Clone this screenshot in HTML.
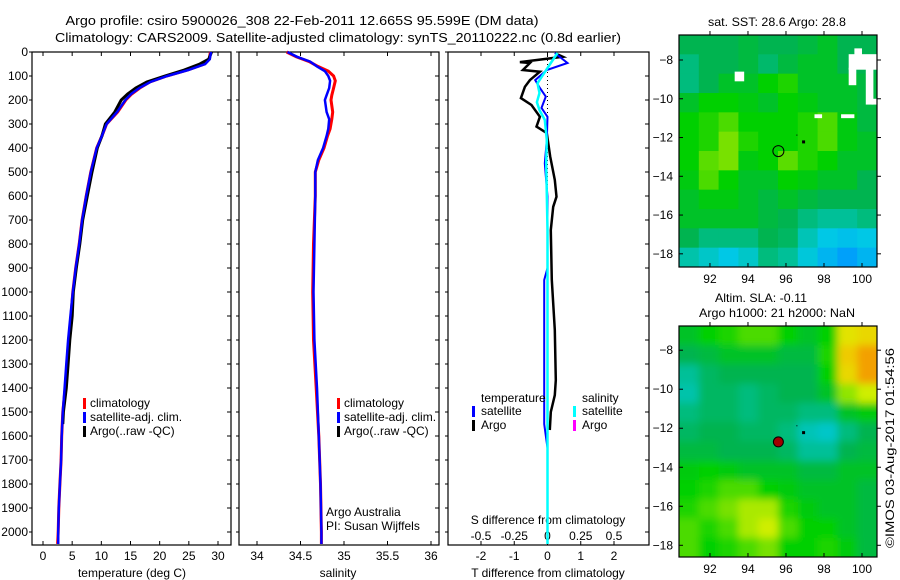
<!DOCTYPE html>
<html><head><meta charset="utf-8">
<style>
html,body{margin:0;padding:0;background:#fff;}
svg{display:block;font-family:"Liberation Sans",sans-serif;}
text{fill:#000;}
</style></head>
<body>
<svg id="fig" width="900" height="580" viewBox="0 0 900 580" xmlns="http://www.w3.org/2000/svg">
<text x="302" y="25" font-size="13" text-anchor="middle" textLength="473" lengthAdjust="spacingAndGlyphs">Argo profile: csiro 5900026_308 22-Feb-2011 12.665S 95.599E (DM data)</text>
<text x="338" y="42" font-size="13" text-anchor="middle" textLength="566" lengthAdjust="spacingAndGlyphs">Climatology: CARS2009. Satellite-adjusted climatology: synTS_20110222.nc (0.8d earlier)</text>
<text x="777" y="26" font-size="12" text-anchor="middle" textLength="138" lengthAdjust="spacingAndGlyphs">sat. SST: 28.6 Argo: 28.8</text>
<text x="761" y="302" font-size="12" text-anchor="middle" textLength="92" lengthAdjust="spacingAndGlyphs">Altim. SLA: -0.11</text>
<text x="777" y="317" font-size="12" text-anchor="middle" textLength="156" lengthAdjust="spacingAndGlyphs">Argo h1000: 21 h2000: NaN</text>
<text transform="translate(894,448) rotate(-90)" font-size="12" text-anchor="middle" textLength="200" lengthAdjust="spacingAndGlyphs">©IMOS 03-Aug-2017 01:54:56</text>
</svg>
<script>
// ---------- data ----------
const tDepth = [0,30,50,75,100,125,150,175,200,250,300,350,400,500,600,700,800,900,1000,1100,1200,1300,1400,1500,1600,1700,1800,1900,2000,2050];
const tClim  = [28.7,28.5,27.7,24.8,21.2,18.3,16.6,15.2,14.2,12.8,10.9,10.1,9.2,8.2,7.4,6.7,6.2,5.6,5.1,4.8,4.4,4.1,3.8,3.4,3.2,3.1,2.9,2.7,2.6,2.5];
const tSat   = [28.8,28.6,27.8,24.9,21.3,18.4,16.5,15.1,14.1,12.7,10.9,10.1,9.2,8.2,7.4,6.7,6.2,5.6,5.1,4.7,4.3,4.0,3.7,3.4,3.2,3.1,2.9,2.7,2.6,2.6];
const aDepth = [0,30,50,75,100,125,150,175,200,250,300,350,400,500,600,700,800,900,1000,1100,1200,1300,1400,1500,1550];
const tArgo  = [28.9,28.4,26.9,24.2,20.9,17.8,15.9,14.5,13.4,12.3,10.7,10.1,9.3,8.4,7.6,6.8,6.3,5.7,5.2,5.0,4.6,4.3,4.0,3.5,3.4];
const sDepth = [0,20,40,60,80,100,120,150,180,200,250,280,320,350,400,450,500,600,800,1000,1200,1400,1600,1800,2000,2050];
const sSat   = [34.35,34.46,34.61,34.69,34.78,34.82,34.84,34.83,34.8,34.78,34.8,34.83,34.82,34.8,34.76,34.7,34.67,34.67,34.66,34.65,34.66,34.69,34.71,34.73,34.74,34.74];
const sClim  = [34.34,34.45,34.6,34.7,34.82,34.88,34.9,34.88,34.86,34.85,34.87,34.86,34.84,34.81,34.77,34.71,34.67,34.67,34.65,34.64,34.65,34.68,34.71,34.73,34.74,34.74];
const dtArgoDepth = [8,20,42,46,75,82,117,145,192,221,270,311,338,436,533,603,645,742,950,1158,1367,1430,1500,1575];
const dtArgo      = [0.27,0.46,-0.83,-0.53,-0.74,-0.23,-0.53,-0.68,-0.8,-0.48,-0.23,-0.33,-0.02,0.08,0.22,0.27,0.17,0.1,0.13,0.22,0.25,0.22,0.1,0.07];
const dtSatDepth  = [4,46,75,117,150,186,233,270,367,464,603,900,950,1550,1650];
const dtSat       = [0.22,0.6,-0.02,-0.37,-0.23,-0.05,-0.18,0.0,-0.02,-0.08,0.0,0.0,-0.1,-0.1,0.0];
const dsSatDepth  = [4,46,88,130,171,209,242,283,367,464,742,1200,2050];
const dsSat       = [0.075,0.025,-0.025,-0.075,-0.06,-0.08,-0.06,-0.02,-0.005,-0.01,0.0,0.0,0.0];
const depthTicks = [0,100,200,300,400,500,600,700,800,900,1000,1100,1200,1300,1400,1500,1600,1700,1800,1900,2000];
const tTicks = [0,5,10,15,20,25,30];
const sTicks = [34,34.5,35,35.5,36];
const sTickLabels = ["34","34.5","35","35.5","36"];
const dTTicks = [-2,-1,0,1,2];
const dSTicks = [-0.5,-0.25,0,0.25,0.5];
const dSTickLabels = ["-0.5","-0.25","0","0.25","0.5"];
const lonTicks = [92,94,96,98,100];
const latTicks = [-8,-10,-12,-14,-16,-18];
const sstGrid = [
[0.5,0.5,0.5,0.52,0.5,0.5,0.52,0.55,0.5,0.5],
[0.45,0.5,0.5,0.52,0.47,0.52,0.55,0.55,0.5,0.5],
[0.45,0.5,0.55,0.55,0.6,0.62,0.55,0.55,0.55,0.52],
[0.55,0.6,0.6,0.58,0.55,0.6,0.58,0.55,0.55,0.52],
[0.6,0.62,0.65,0.6,0.6,0.6,0.62,0.65,0.58,0.52],
[0.6,0.62,0.68,0.62,0.6,0.6,0.62,0.65,0.58,0.55],
[0.6,0.66,0.68,0.58,0.6,0.66,0.62,0.6,0.55,0.55],
[0.58,0.65,0.6,0.55,0.55,0.6,0.58,0.55,0.55,0.5],
[0.55,0.58,0.58,0.55,0.52,0.55,0.52,0.5,0.5,0.5],
[0.55,0.55,0.55,0.55,0.52,0.5,0.45,0.42,0.42,0.45],
[0.5,0.45,0.45,0.45,0.5,0.48,0.38,0.3,0.28,0.3],
[0.4,0.35,0.3,0.35,0.45,0.42,0.32,0.25,0.2,0.25]];
const slaGrid = [
[0.55,0.6,0.62,0.65,0.65,0.6,0.55,0.6,0.78,0.8],
[0.5,0.52,0.55,0.55,0.55,0.52,0.52,0.62,0.82,0.88],
[0.42,0.48,0.5,0.5,0.5,0.5,0.5,0.6,0.8,0.88],
[0.4,0.48,0.48,0.45,0.48,0.5,0.5,0.55,0.7,0.75],
[0.45,0.48,0.48,0.45,0.48,0.48,0.45,0.45,0.55,0.58],
[0.48,0.5,0.5,0.48,0.48,0.45,0.38,0.35,0.45,0.5],
[0.52,0.52,0.5,0.5,0.5,0.48,0.42,0.42,0.5,0.52],
[0.58,0.6,0.58,0.55,0.55,0.55,0.52,0.52,0.55,0.55],
[0.6,0.62,0.65,0.65,0.6,0.58,0.55,0.55,0.55,0.52],
[0.62,0.65,0.68,0.72,0.72,0.62,0.58,0.55,0.55,0.52],
[0.65,0.62,0.65,0.72,0.75,0.65,0.6,0.6,0.55,0.52],
[0.65,0.6,0.62,0.65,0.68,0.6,0.6,0.62,0.58,0.52]];
const sstNaN = [[93.3,93.8,-8.6,-9.1],[99.3,100.8,-7.7,-8.5],[99.6,100.0,-7.4,-7.8],[99.3,99.7,-8.4,-9.3],[100.2,100.6,-8.4,-10.3],[100.5,100.8,-10.0,-10.3],[97.5,97.9,-10.8,-11.0],[98.9,99.6,-10.8,-11.0]];
const profLon = 95.6, profLat = -12.7;
const floatLon = [96.9,96.6], floatLat = [-12.2,-11.9];

// ---------- helpers ----------
const svg = document.getElementById('fig');
const NS = 'http://www.w3.org/2000/svg';
function mk(tag, attrs, parent){const e=document.createElementNS(NS,tag);for(const k in attrs)e.setAttribute(k,attrs[k]);(parent||svg).appendChild(e);return e;}
function lin(d0,d1,r0,r1){return v=>r0+(v-d0)*(r1-r0)/(d1-d0);}
const pTop=52, pBot=545;
const yD = lin(0,2000,52,532);
function stepPath(xs,ds,fx){
  let p='';
  for(let i=0;i<xs.length;i++){const x=fx(xs[i]).toFixed(1),y=yD(ds[i]).toFixed(1);p+=(i?'L':'M')+x+' '+y+' ';}
  return p;
}
function frame(x0,x1,name){
  const r=mk('rect',{x:x0,y:pTop,width:x1-x0,height:pBot-pTop,fill:'none',stroke:'#000','stroke-width':1.2});
  
  
  for(const d of depthTicks){const y=yD(d);
    mk('line',{x1:x0-3,y1:y,x2:x0,y2:y,stroke:'#000'});mk('line',{x1:x1-4,y1:y,x2:x1,y2:y,stroke:'#000'});}
}
function txt(x,y,s,name,opts){const t=mk('text',Object.assign({x:x,y:y,'font-size':12},opts||{}));t.textContent=s;
  
  return t;}
function xTicks(vals,labels,fx,y,name,tickTop){
  vals.forEach((v,i)=>{const x=fx(v);
    if(tickTop){mk('line',{x1:x,y1:pTop,x2:x,y2:pTop+4,stroke:'#000'});mk('line',{x1:x,y1:pBot,x2:x,y2:pBot-4,stroke:'#000'});}
    txt(x,y,labels[i],name,{'text-anchor':'middle'});});
}
function line(d,color,w,name){const p=mk('path',{d:d,fill:'none',stroke:color,'stroke-width':w,'stroke-linejoin':'miter'});
  
  return p;}
function legendBar(x,y,color,name){const r=mk('rect',{x:x,y:y-10,width:3,height:11,fill:color});
  
  }

// ---------- panel 1: temperature ----------
const xT = lin(0,30,43,218);
frame(32,231,'temperature-panel');
depthTicks.forEach(d=>txt(28,yD(d)+4,String(d),'depth-tick-label',{'text-anchor':'end'}));
xTicks(tTicks,tTicks.map(String),xT,560,'temperature-tick-label',true);
txt(132,577,'temperature (deg C)','temperature-axis-title',{'text-anchor':'middle'});
line(stepPath(tClim,tDepth,xT),'#ff0000',3,'temperature-climatology-line');
line(stepPath(tArgo,aDepth,xT),'#000000',3,'temperature-argo-line');
line(stepPath(tSat,tDepth,xT),'#0000ff',2.5,'temperature-satellite-line');
legendBar(83,408,'#ff0000','legend-climatology-marker');txt(90,407,'climatology','legend-climatology');
legendBar(83,422,'#0000ff','legend-satellite-marker');txt(90,421,'satellite-adj. clim.','legend-satellite');
legendBar(83,436,'#000000','legend-argo-marker');txt(90,435,'Argo(..raw -QC)','legend-argo');

// ---------- panel 2: salinity ----------
const xS = lin(34,36,257,431);
frame(239,439,'salinity-panel');
xTicks(sTicks,sTickLabels,xS,560,'salinity-tick-label',true);
txt(338,577,'salinity','salinity-axis-title',{'text-anchor':'middle'});
line(stepPath(sClim,sDepth,xS),'#ff0000',3,'salinity-climatology-line');
line(stepPath(sSat,sDepth,xS),'#0000ff',2.5,'salinity-satellite-line');
legendBar(337,408,'#ff0000','legend-s-climatology-marker');txt(344,407,'climatology','legend-s-climatology');
legendBar(337,422,'#0000ff','legend-s-satellite-marker');txt(344,421,'satellite-adj. clim.','legend-s-satellite');
legendBar(337,436,'#000000','legend-s-argo-marker');txt(344,435,'Argo(..raw -QC)','legend-s-argo');
txt(326,516,'Argo Australia','argo-australia-label');
txt(326,530,'PI: Susan Wijffels','pi-label');

// ---------- panel 3: differences ----------
const xDT = lin(-2,2,481,614);
const xDS = v=>xDT(v*4);
frame(448,649,'difference-panel');
xTicks(dTTicks,dTTicks.map(String),xDT,560,'t-difference-tick-label',true);
xTicks(dSTicks,dSTickLabels,xDS,540,'s-difference-tick-label',false);
txt(548,524,'S difference from climatology','s-difference-axis-title',{'text-anchor':'middle'});
txt(548,577,'T difference from climatology','t-difference-axis-title',{'text-anchor':'middle'});
const zl=mk('line',{x1:xDT(0),y1:pTop,x2:xDT(0),y2:yD(700),stroke:'#000','stroke-dasharray':'1 3'});


line(stepPath(dtArgo,dtArgoDepth,xDT),'#000000',2.5,'t-diff-argo-line');
line(stepPath(dtSat,dtSatDepth,xDT),'#0000ff',2,'t-diff-satellite-line');
line(stepPath(dsSat,dsSatDepth,xDS),'#00ffff',2.5,'s-diff-satellite-line');
txt(481,402,'temperature','legend-temperature-header');
txt(582,402,'salinity','legend-salinity-header');
legendBar(472,416,'#0000ff','legend-t-satellite-marker');txt(481,415,'satellite','legend-t-satellite');
legendBar(472,430,'#000000','legend-t-argo-marker');txt(481,429,'Argo','legend-t-argo');
legendBar(573,416,'#00ffff','legend-s-sat-marker');txt(582,415,'satellite','legend-s-sat');
legendBar(573,430,'#ff00ff','legend-s-argo-marker');txt(582,429,'Argo','legend-s-argo-diff');

// ---------- maps ----------
const stops=[[0.0,[0,80,255]],[0.2,[0,160,250]],[0.3,[0,200,230]],[0.4,[0,195,170]],[0.5,[0,180,80]],[0.6,[0,208,0]],[0.68,[120,225,0]],[0.76,[220,240,0]],[0.84,[245,190,0]],[0.92,[240,130,0]],[1.0,[220,60,0]]];
function cmap(v){for(let i=1;i<stops.length;i++){if(v<=stops[i][0]){const a=stops[i-1],b=stops[i],f=(v-a[0])/(b[0]-a[0]);
  return 'rgb('+a[1].map((c,k)=>Math.round(c+(b[1][k]-c)*f)).join(',')+')';}}return 'rgb(220,60,0)';}
function drawMap(y0,y1,lat0,lat1,grid,name,blur){
  const x0=679,x1=877,lon0=90.37,lon1=100.79;
  const fx=lin(lon0,lon1,x0,x1), fy=lin(lat0,lat1,y0,y1);
  const g=mk('g',{});
  
  
  const clip=mk('clipPath',{id:name+'-clip'});mk('rect',{x:x0,y:y0,width:x1-x0,height:y1-y0},clip);
  const inner=mk('g',{'clip-path':'url(#'+name+'-clip)'},g);
  if(blur){const f=mk('filter',{id:name+'-blur',x:'-10%',y:'-10%',width:'120%',height:'120%'});mk('feGaussianBlur',{stdDeviation:blur},f);}
  const cells=mk('g',blur?{filter:'url(#'+name+'-blur)'}:{},inner);
  const R=grid.length,C=grid[0].length,cw=(x1-x0)/C,ch=(y1-y0)/R;
  for(let r=-1;r<=R;r++)for(let c=-1;c<=C;c++){
    const v=grid[Math.min(R-1,Math.max(0,r))][Math.min(C-1,Math.max(0,c))];
    const cell=mk('rect',{x:x0+c*cw,y:y0+r*ch,width:cw+0.6,height:ch+0.6,fill:cmap(v)},cells);
    
    
  }
  mk('rect',{x:x0,y:y0,width:x1-x0,height:y1-y0,fill:'none',stroke:'#000','stroke-width':1.2},g);
  lonTicks.forEach(lo=>{const x=fx(lo);mk('line',{x1:x,y1:y0,x2:x,y2:y0-4,stroke:'#000'},g);mk('line',{x1:x,y1:y1,x2:x,y2:y1-4,stroke:'#000'},g);
    txt(x,y1+16,String(lo),'longitude-tick-label',{'text-anchor':'middle'});});
  latTicks.forEach(la=>{const y=fy(la);if(y<y0||y>y1)return;mk('line',{x1:x0,y1:y,x2:x0+4,y2:y,stroke:'#000'},g);mk('line',{x1:x1,y1:y,x2:x1+4,y2:y,stroke:'#000'},g);
    txt(x0-6,y+4,String(la).replace('-','\u2212'),'latitude-tick-label',{'text-anchor':'end'});});
  return {fx,fy,g,inner};
}
const m1=drawMap(35,267,-6.71,-18.68,sstGrid,'sst-map',0);
sstNaN.forEach(b=>{const r=mk('rect',{x:m1.fx(b[0]),y:m1.fy(b[2]),width:m1.fx(b[1])-m1.fx(b[0]),height:m1.fy(b[3])-m1.fy(b[2]),fill:'#fff'},m1.inner);
  
  });
const c1=mk('circle',{cx:m1.fx(profLon),cy:m1.fy(profLat),r:5.5,fill:'none',stroke:'#000','stroke-width':1});


const m2=drawMap(326,557,-6.76,-18.6,slaGrid,'sla-map',4);
const c2=mk('circle',{cx:m2.fx(profLon),cy:m2.fy(profLat),r:5,fill:'#a00000',stroke:'#000','stroke-width':1});


[m1,m2].forEach(m=>floatLon.forEach((lo,i)=>{const d=mk('rect',{x:m.fx(lo)-1,y:m.fy(floatLat[i])-1,width:i?1:3,height:i?1:3,fill:'#000'});
  
  }));
</script>
</body></html>
